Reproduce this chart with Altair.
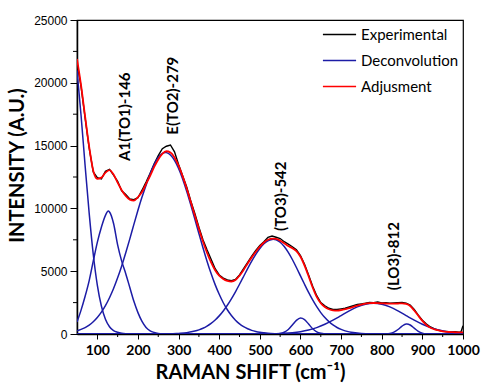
import altair as alt
import pandas as pd

# ---------------- data ----------------
series_names = ["Experimental", "Deconvolution", "Adjusment"]
series_colors = ["#000000", "#1c1ca6", "#ff0000"]

exp_x = list(range(50, 1000, 10)) + [995, 1000]
exp_y = [21600, 19700, 17200, 14800, 12900, 12450, 12350, 12950, 13100, 12650,
         12150, 11400, 11100, 10750, 10700, 10850, 11450, 12100, 12800, 13550,
         14200, 14750, 14950, 15050, 14500, 13500, 12600, 11700, 10600, 9600,
         8500, 7500, 6700, 5950, 5200, 4700, 4450, 4300, 4250, 4350,
         4700, 5200, 5700, 6200, 6650, 7050, 7350, 7700, 7800, 7700,
         7600, 7350, 7150, 6950, 6700, 6250, 5550, 4700, 3800, 3050,
         2500, 2250, 2050, 1950, 1950, 2000, 2050, 2150, 2250, 2350,
         2400, 2450, 2520, 2500, 2550, 2480, 2500, 2450, 2480, 2500,
         2520, 2450, 2300, 1950, 1500, 1100, 800, 560, 400, 300,
         220, 200, 160, 180, 150, 170, 650]

fit_x = list(range(50, 1001, 10))
fit_y = [21900, 19800, 17300, 14900, 13000, 12350, 12450, 12850, 13050, 12700,
         12050, 11450, 11000, 10700, 10620, 10900, 11300, 11950, 12600, 13300,
         13900, 14350, 14550, 14450, 14050, 13400, 12550, 11580, 10520, 9430,
         8370, 7360, 6470, 5700, 5080, 4650, 4380, 4230, 4180, 4300,
         4650, 5100, 5620, 6100, 6550, 6960, 7290, 7500, 7600, 7580,
         7430, 7230, 7000, 6830, 6600, 6150, 5450, 4600, 3700, 2950,
         2450, 2150, 1970, 1880, 1860, 1900, 1980, 2060, 2160, 2260,
         2340, 2410, 2450, 2470, 2460, 2440, 2430, 2420, 2420, 2430,
         2440, 2390, 2230, 1870, 1450, 1050, 720, 500, 370, 280,
         215, 175, 155, 140, 130, 125]

# deconvolution bands
pA_x = [50, 60, 70, 80, 90, 100, 110, 120, 130, 140, 150, 160, 170, 180, 190, 200, 1000]
pA_y = [21000, 17400, 13400, 9600, 6350, 3900, 2230, 1180, 580, 265, 140, 70, 30, 10, 0, 0, 0]

pB_x = [50, 60, 70, 80, 90, 100, 110, 120, 127, 130, 140, 150, 160, 170, 180, 190,
        200, 210, 220, 230, 240, 250, 260, 270, 1000]
pB_y = [950, 1900, 3000, 4250, 5800, 7300, 8500, 9450, 9790, 9720, 8800, 7100, 5800,
        4800, 3700, 2600, 1700, 1000, 520, 250, 120, 50, 15, 0, 0]

pC_x = [50, 60, 70, 80, 90, 100, 110, 120, 130, 140, 150, 160, 170, 180, 190, 200,
        210, 220, 230, 240, 250, 260, 267, 270, 280, 290, 300, 310, 320, 330, 340,
        350, 360, 370, 380, 390, 400, 410, 420, 430, 440, 450, 460, 470, 480, 490,
        500, 510, 520, 540, 560, 580, 1000]
pC_y = [250, 364, 510, 713, 978, 1315, 1740, 2260, 2890, 3620, 4470, 5420, 6465,
        7575, 8730, 9850, 10900, 11850, 12750, 13500, 14050, 14380, 14450, 14440,
        14250, 13820, 13180, 12350, 11370, 10290, 9150, 8000, 6870, 5800, 4810,
        3930, 3160, 2490, 1930, 1470, 1100, 810, 587, 418, 291, 200, 135, 92, 58,
        25, 8, 0, 0]

pD_x = [50, 280, 300, 320, 340, 350, 360, 370, 380, 390, 400, 410, 420, 430, 440,
        450, 460, 470, 480, 490, 500, 510, 520, 530, 533, 540, 550, 560, 570, 580,
        590, 600, 610, 620, 630, 640, 650, 660, 670, 680, 690, 700, 710, 720, 730,
        740, 750, 760, 780, 800, 1000]
pD_y = [0, 0, 47, 109, 232, 330, 458, 630, 846, 1115, 1443, 1835, 2287, 2798, 3360,
        3960, 4580, 5204, 5800, 6340, 6810, 7180, 7420, 7530, 7540, 7500, 7307, 6966,
        6497, 5931, 5297, 4628, 3958, 3311, 2711, 2173, 1702, 1307, 981, 720, 517,
        364, 251, 169, 111, 71, 45, 28, 10, 0, 0]

pE_x = [50, 530, 540, 550, 560, 570, 580, 590, 600, 610, 620, 630, 640, 650, 660, 670, 1000]
pE_y = [0, 0, 10, 40, 139, 358, 711, 1083, 1268, 1141, 790, 420, 172, 54, 10, 0, 0]

pF_x = [50, 500, 520, 540, 560, 580, 600, 620, 640, 660, 680, 700, 720, 740, 760,
        780, 800, 820, 840, 860, 880, 900, 920, 940, 960, 980, 1000]
pF_y = [0, 0, 12, 24, 51, 100, 184, 316, 510, 774, 1101, 1468, 1837, 2156, 2373,
        2450, 2373, 2156, 1837, 1468, 1101, 774, 510, 316, 184, 100, 51]

pG_x = [50, 800, 810, 820, 830, 840, 850, 860, 862, 870, 880, 890, 900, 910, 920, 930, 1000]
pG_y = [0, 0, 8, 42, 145, 357, 630, 797, 800, 719, 466, 216, 72, 17, 3, 0, 0]

x_tick_values = [100, 200, 300, 400, 500, 600, 700, 800, 900, 1000]
x_minor_values = [150, 250, 350, 450, 550, 650, 750, 850, 950]
y_tick_values = [0, 5000, 10000, 15000, 20000, 25000]
y_minor_values = [2500, 7500, 12500, 17500, 22500]

ann_text = ["A1(TO1)-146", "E(TO2)-279", "(TO3)-542", "(LO3)-812"]
ann_x = [168, 287, 552, 829]
ann_y = [17300, 18970, 10970, 6200]

# ---------------- tables ----------------
df_exp = pd.DataFrame({"x": exp_x, "y": exp_y, "series": "Experimental"})
df_fit = pd.DataFrame({"x": fit_x, "y": fit_y, "series": "Adjusment"})
bands = {"A": (pA_x, pA_y), "B": (pB_x, pB_y), "C": (pC_x, pC_y), "D": (pD_x, pD_y),
         "E": (pE_x, pE_y), "F": (pF_x, pF_y), "G": (pG_x, pG_y)}
df_dec = pd.concat([pd.DataFrame({"x": bx, "y": by, "series": "Deconvolution", "band": k})
                    for k, (bx, by) in bands.items()], ignore_index=True)
df_ann = pd.DataFrame({"label": ann_text, "x": ann_x, "y": ann_y})
df_xminor = pd.DataFrame({"x": x_minor_values})
df_yminor = pd.DataFrame({"y": y_minor_values})

BOLD_FONT = "Lato"
PLOT_W, PLOT_H = 386, 314

x_scale = alt.Scale(domain=[50, 1000], nice=False, zero=False)
y_scale = alt.Scale(domain=[0, 25000], nice=False)

x_enc = alt.X(
    "x:Q", scale=x_scale,
    axis=alt.Axis(
        values=x_tick_values,
        labelOverlap=False, tickSize=5,
        labelFont=BOLD_FONT, labelFontWeight="bold", labelFontSize=14,
        labelColor="black", tickColor="black", domainColor="black", domainWidth=1.5,
        labelFlush=False, labelPadding=4, grid=False, format="d",
        title="RAMAN SHIFT (cm⁻¹)", titleFont=BOLD_FONT, titleFontSize=20,
        titleFontWeight="bold", titleColor="black",
        titleX=173, titleY=44, titleAlign="center", titleBaseline="alphabetic",
    ),
)
y_enc = alt.Y(
    "y:Q", scale=y_scale,
    axis=alt.Axis(
        values=y_tick_values, format="d",
        labelOverlap=False, tickSize=7,
        labelFont="Liberation Sans", labelFontSize=12, labelColor="black",
        tickColor="black", domainColor="black", domainWidth=1.5, labelPadding=3,
        grid=False,
        title="INTENSITY (A.U.)", titleFont=BOLD_FONT, titleFontSize=20,
        titleFontWeight="bold", titleColor="black", titleAngle=270,
        titleX=-60, titleY=145, titleAlign="center", titleBaseline="middle",
    ),
)
color_enc = alt.Color(
    "series:N",
    scale=alt.Scale(domain=series_names, range=series_colors),
    legend=alt.Legend(
        orient="none", legendX=245, legendY=-3, title=None,
        symbolType="stroke", symbolSize=1100, symbolStrokeWidth=1.6,
        labelFont=BOLD_FONT, labelFontSize=15, labelColor="black",
        rowPadding=-2, labelOffset=4,
    ),
)

exp_layer = alt.Chart(df_exp).mark_line(strokeWidth=1.4, clip=True).encode(
    x=x_enc, y=y_enc, color=color_enc)
dec_layer = alt.Chart(df_dec).mark_line(strokeWidth=1.5, interpolate="monotone", clip=True).encode(
    x=x_enc, y=y_enc, color=color_enc, detail="band:N")
fit_layer = alt.Chart(df_fit).mark_line(strokeWidth=1.8, interpolate="monotone", clip=True).encode(
    x=x_enc, y=y_enc, color=color_enc)
ann_layer = alt.Chart(df_ann).mark_text(
    angle=270, font=BOLD_FONT, fontWeight="bold", fontSize=15, color="black",
    align="center", baseline="middle").encode(
    x=alt.X("x:Q", scale=x_scale), y=alt.Y("y:Q", scale=y_scale), text="label:N")

# minor ticks
xminor_layer = alt.Chart(df_xminor).mark_rule(color="black", strokeWidth=1).encode(
    x=alt.X("x:Q", scale=x_scale), y=alt.value(PLOT_H), y2=alt.value(PLOT_H + 3))
yminor_layer = alt.Chart(df_yminor).mark_rule(color="black", strokeWidth=1).encode(
    y=alt.Y("y:Q", scale=y_scale), x=alt.value(-4), x2=alt.value(0))

chart = alt.layer(exp_layer, dec_layer, fit_layer, ann_layer, xminor_layer, yminor_layer).properties(
    width=PLOT_W, height=PLOT_H,
    autosize=alt.AutoSizeParams(type="none"),
    padding={"left": 77, "top": 20, "right": 19, "bottom": 50},
    background="white",
).configure_view(stroke="black", strokeWidth=1.2)

chart.save("out.html", embed_options={"renderer": "svg", "actions": False})
